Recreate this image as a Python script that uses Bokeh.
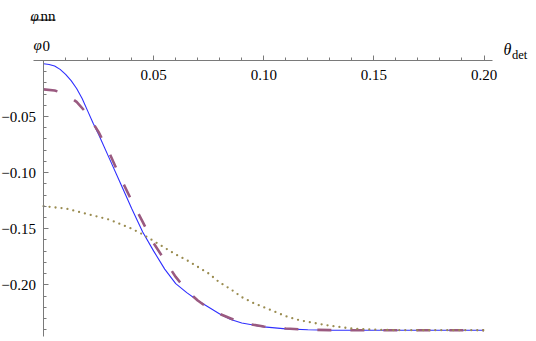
from bokeh.plotting import figure
from bokeh.models import LinearAxis, FixedTicker, Range1d
from bokeh.core.properties import value
from bokeh.embed import file_html
from bokeh.resources import INLINE

# ---- data ----
theta_blue = [0.0, 0.0025, 0.005, 0.0075, 0.010, 0.0125, 0.015, 0.0175, 0.020, 0.0225,
              0.025, 0.030, 0.035, 0.040, 0.045, 0.050, 0.055, 0.060, 0.065, 0.070,
              0.075, 0.080, 0.085, 0.090, 0.100, 0.110, 0.120, 0.130, 0.150, 0.200]
phi_blue = [-0.0030, -0.0036, -0.0050, -0.0080, -0.0125, -0.0180, -0.0250, -0.0340, -0.0450, -0.0560,
            -0.0660, -0.0880, -0.1100, -0.1320, -0.1530, -0.1700, -0.1860, -0.1990, -0.2070, -0.2140,
            -0.2200, -0.2260, -0.2310, -0.2340, -0.2375, -0.2393, -0.2400, -0.2404, -0.2405, -0.2405]

theta_dash = [0.0, 0.005, 0.010, 0.015, 0.020, 0.025, 0.030, 0.035, 0.040, 0.045,
              0.050, 0.055, 0.060, 0.065, 0.070, 0.075, 0.080, 0.085, 0.090, 0.100,
              0.110, 0.120, 0.130, 0.150, 0.200]
phi_dash = [-0.0258, -0.0268, -0.0300, -0.0370, -0.0480, -0.0640, -0.0830, -0.1050, -0.1250, -0.1440,
            -0.1630, -0.1780, -0.1930, -0.2050, -0.2140, -0.2210, -0.2260, -0.2300, -0.2340, -0.2372,
            -0.2390, -0.2400, -0.2404, -0.2405, -0.2405]

theta_dot = [0.0, 0.010, 0.020, 0.030, 0.035, 0.040, 0.045, 0.050, 0.055, 0.060,
             0.065, 0.070, 0.075, 0.080, 0.085, 0.090, 0.095, 0.100, 0.105, 0.110,
             0.115, 0.120, 0.130, 0.140, 0.150, 0.160, 0.200]
phi_dot = [-0.1300, -0.1320, -0.1370, -0.1420, -0.1460, -0.1500, -0.1550, -0.1610, -0.1670, -0.1730,
           -0.1780, -0.1840, -0.1900, -0.1980, -0.2040, -0.2110, -0.2160, -0.2200, -0.2240, -0.2280,
           -0.2310, -0.2330, -0.2365, -0.2390, -0.2400, -0.2404, -0.2405]

x_major = [0.05, 0.10, 0.15, 0.20]
x_major_labels = ["0.05", "0.10", "0.15", "0.20"]
x_minor = [0.01, 0.02, 0.03, 0.04, 0.05, 0.06, 0.07, 0.08, 0.09, 0.10,
           0.11, 0.12, 0.13, 0.14, 0.15, 0.16, 0.17, 0.18, 0.19, 0.20]
y_major = [-0.05, -0.10, -0.15, -0.20]
y_major_labels = ["\u22120.05", "\u22120.10", "\u22120.15", "\u22120.20"]
y_minor = [-0.01, -0.02, -0.03, -0.04, -0.05, -0.06, -0.07, -0.08, -0.09, -0.10,
           -0.11, -0.12, -0.13, -0.14, -0.15, -0.16, -0.17, -0.18, -0.19, -0.20,
           -0.21, -0.22, -0.23, -0.24]

# ---- layout helpers (page pixel -> data) ----
X0, XS = 43.1, 2202.0
Y0, YS = 59.9, 1122.0


def dx(px):
    return (px - X0) / XS


def dy(py):
    return (Y0 - py) / YS


W, H = 536, 341
p = figure(width=W, height=H, output_backend="svg", toolbar_location=None,
           x_range=Range1d(dx(0), dx(W)), y_range=Range1d(dy(H), dy(0)),
           x_axis_location=None, y_axis_location=None,
           min_border=0, min_border_left=0, min_border_right=0,
           min_border_top=0, min_border_bottom=0)
p.outline_line_color = None
p.xgrid.visible = False
p.ygrid.visible = False
p.background_fill_color = "white"
p.border_fill_color = "white"

AX = "#7a7a7a"
FONT = value("Liberation Serif")

xaxis = LinearAxis(fixed_location=0, bounds=(-0.0045, 0.2038),
                   ticker=FixedTicker(ticks=x_major, minor_ticks=x_minor),
                   major_label_overrides={t: "" for t in x_major},
                   axis_line_color=AX, major_tick_line_color=AX, minor_tick_line_color=AX,
                   major_tick_in=5, major_tick_out=0, minor_tick_in=3, minor_tick_out=0)
p.add_layout(xaxis, "below")

yaxis = LinearAxis(fixed_location=0, bounds=(-0.2458, 0.0),
                   ticker=FixedTicker(ticks=y_major, minor_ticks=y_minor),
                   major_label_overrides={t: "" for t in y_major},
                   axis_line_color=AX, major_tick_line_color=AX, minor_tick_line_color=AX,
                   major_tick_in=5, major_tick_out=0, minor_tick_in=3, minor_tick_out=0)
p.add_layout(yaxis, "left")

# tick labels (serif, drawn as text glyphs at the tick values)
p.text(x=x_major, y=[dy(74)] * len(x_major), text=x_major_labels, text_font=FONT,
       text_font_size="15px", text_align="center", text_baseline="middle",
       text_color="black")
p.text(x=[dx(35.5)] * len(y_major), y=y_major, text=y_major_labels, text_font=FONT,
       text_font_size="15px", text_align="right", text_baseline="middle",
       text_color="black")

p.line(theta_blue, phi_blue, line_color="#2f2fff", line_width=1.1)
p.line(theta_dash, phi_dash, line_color="#9a5a80", line_width=2.6, line_dash="14 19")
p.line(theta_dot, phi_dot, line_color="#9a8c50", line_width=2.3, line_dash="0 6",
       line_cap="round")

# axis titles
p.text(x=[dx(503)], y=[dy(49)], text=["\u03b8"], text_font=FONT,
       text_font_style="italic", text_font_size="16px",
       text_align="left", text_baseline="middle", text_color="black")
p.text(x=[dx(511.5)], y=[dy(54)], text=["det"], text_font=FONT,
       text_font_size="12.5px", text_align="left", text_baseline="middle",
       text_color="black")

p.text(x=[dx(30)], y=[dy(15)], text=["\u03c6"], text_font=FONT,
       text_font_style="italic", text_font_size="15px",
       text_align="left", text_baseline="alphabetic", text_color="black")
p.text(x=[dx(40)], y=[dy(15)], text=["nn"], text_font=FONT,
       text_font_size="15px", text_align="left", text_baseline="alphabetic",
       text_color="black")
p.segment(x0=[dx(30)], y0=[dy(19.5)], x1=[dx(55)], y1=[dy(19.5)],
          line_color="black", line_width=1)
p.text(x=[dx(33)], y=[dy(44)], text=["\u03c6"], text_font=FONT,
       text_font_style="italic", text_font_size="15px",
       text_align="left", text_baseline="alphabetic", text_color="black")
p.text(x=[dx(42)], y=[dy(45)], text=["0"], text_font=FONT,
       text_font_size="15px", text_align="left", text_baseline="alphabetic",
       text_color="black")

open("out.html", "w").write(file_html(p, INLINE))
